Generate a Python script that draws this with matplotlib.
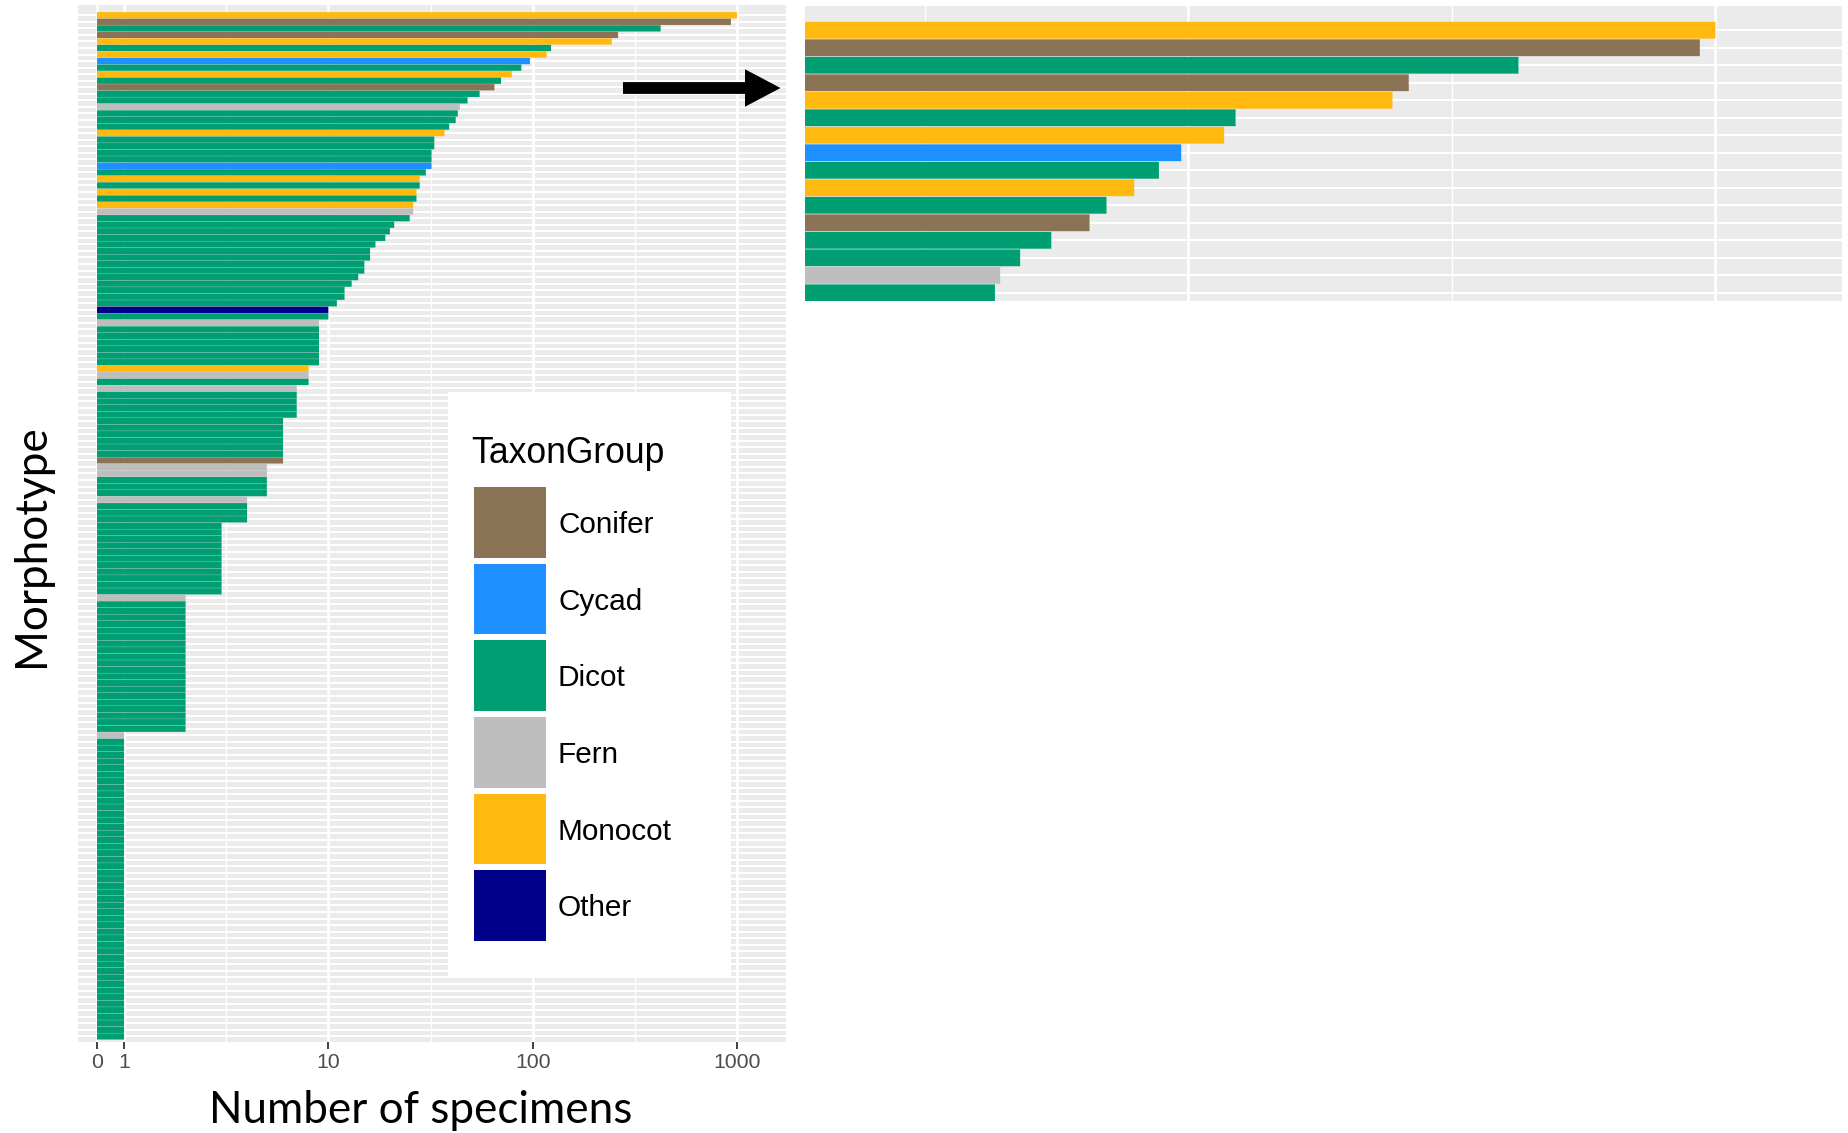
import numpy as np
import matplotlib
matplotlib.use("Agg")
import matplotlib.pyplot as plt
from matplotlib.patches import Rectangle, FancyArrow
from matplotlib.ticker import FixedLocator, NullFormatter, FixedFormatter

# ---------------- data (top to bottom) ----------------
taxon = [
    "Monocot", "Conifer", "Dicot", "Conifer", "Monocot", "Dicot", "Monocot", "Cycad",
    "Dicot", "Monocot", "Dicot", "Conifer", "Dicot", "Dicot", "Fern", "Dicot",
    "Dicot", "Dicot", "Monocot", "Dicot", "Dicot", "Dicot", "Dicot", "Cycad",
    "Dicot", "Monocot", "Dicot", "Monocot", "Dicot", "Monocot", "Fern", "Dicot",
    "Dicot", "Dicot", "Dicot", "Dicot", "Dicot", "Dicot", "Dicot", "Dicot",
    "Dicot", "Dicot", "Dicot", "Dicot", "Dicot", "Other", "Dicot", "Fern",
    "Dicot", "Dicot", "Dicot", "Dicot", "Dicot", "Dicot", "Monocot", "Fern",
    "Dicot", "Fern", "Dicot", "Dicot", "Dicot", "Dicot", "Dicot", "Dicot",
    "Dicot", "Dicot", "Dicot", "Dicot", "Conifer", "Fern", "Fern", "Dicot",
    "Dicot", "Dicot", "Fern", "Dicot", "Dicot", "Dicot", "Dicot", "Dicot",
    "Dicot", "Dicot", "Dicot", "Dicot", "Dicot", "Dicot", "Dicot", "Dicot",
    "Dicot", "Fern", "Dicot", "Dicot", "Dicot", "Dicot", "Dicot", "Dicot",
    "Dicot", "Dicot", "Dicot", "Dicot", "Dicot", "Dicot", "Dicot", "Dicot",
    "Dicot", "Dicot", "Dicot", "Dicot", "Dicot", "Dicot", "Fern", "Dicot",
    "Dicot", "Dicot", "Dicot", "Dicot", "Dicot", "Dicot", "Dicot", "Dicot",
    "Dicot", "Dicot", "Dicot", "Dicot", "Dicot", "Dicot", "Dicot", "Dicot",
    "Dicot", "Dicot", "Dicot", "Dicot", "Dicot", "Dicot", "Dicot", "Dicot",
    "Dicot", "Dicot", "Dicot", "Dicot", "Dicot", "Dicot", "Dicot", "Dicot",
    "Dicot", "Dicot", "Dicot", "Dicot", "Dicot", "Dicot", "Dicot", "Dicot",
    "Dicot", "Dicot", "Dicot", "Dicot", "Dicot",
]
specimens = [
    1000, 934, 423, 262, 244, 123, 117, 97,
    88, 79, 70, 65, 55, 48, 44, 43,
    42, 39, 37, 33, 33, 32, 32, 32,
    30, 28, 28, 27, 27, 26, 26, 25,
    21, 20, 19, 17, 16, 16, 15, 15,
    14, 13, 12, 12, 11, 10, 10, 9,
    9, 9, 9, 9, 9, 9, 8, 8,
    8, 7, 7, 7, 7, 7, 6, 6,
    6, 6, 6, 6, 6, 5, 5, 5,
    5, 5, 4, 4, 4, 4, 3, 3,
    3, 3, 3, 3, 3, 3, 3, 3,
    3, 2, 2, 2, 2, 2, 2, 2,
    2, 2, 2, 2, 2, 2, 2, 2,
    2, 2, 2, 2, 2, 2, 1, 1,
    1, 1, 1, 1, 1, 1, 1, 1,
    1, 1, 1, 1, 1, 1, 1, 1,
    1, 1, 1, 1, 1, 1, 1, 1,
    1, 1, 1, 1, 1, 1, 1, 1,
    1, 1, 1, 1, 1, 1, 1, 1,
    1, 1, 1, 1, 1,
]
groups = ["Conifer", "Cycad", "Dicot", "Fern", "Monocot", "Other"]
group_colors = ["#8B7355", "#1E90FF", "#009E73", "#BEBEBE", "#FFB90F", "#00008B"]
x_ticks = [0, 1, 10, 100, 1000]
x_ticklabels = ["0", "1", "10", "100", "1000"]
x_minor = [10 ** 0.5, 10 ** 1.5, 10 ** 2.5]

# ---------------- scale: log10 with a small linear stub for 0..1 ----------------
ZERO_GAP = 0.1325


def fwd(x):
    x = np.asarray(x, dtype=float)
    return np.where(x >= 1, np.log10(np.clip(x, 1, None)), (x - 1) * ZERO_GAP)


def inv(y):
    y = np.asarray(y, dtype=float)
    return np.where(y >= 0, np.power(10.0, np.clip(y, None, 300)), y / ZERO_GAP + 1)


W, H = 1849, 1133
fig = plt.figure(figsize=(W / 100, H / 100), dpi=100)
fig.patch.set_facecolor("white")

cmap = dict(zip(groups, group_colors))
colors = [cmap[t] for t in taxon]
rows = np.arange(1, len(specimens) + 1)


def px_axes(x0, y0, x1, y1):
    return fig.add_axes([x0 / W, 1 - y1 / H, (x1 - x0) / W, (y1 - y0) / H])


def style_panel(ax):
    ax.set_facecolor("#EBEBEB")
    ax.set_xscale("function", functions=(fwd, inv))
    bars = ax.barh(rows, specimens, left=0, height=0.96, color=colors, linewidth=0, zorder=3)
    for b in bars:
        b.set_snap(False)
    ax.set_axisbelow(True)
    ax.xaxis.set_major_locator(FixedLocator(x_ticks))
    ax.xaxis.set_minor_locator(FixedLocator(x_minor))
    ax.xaxis.set_minor_formatter(NullFormatter())
    ax.set_yticks(rows)
    ax.set_yticklabels([])
    ax.tick_params(axis="y", length=0)
    ax.tick_params(axis="x", which="minor", length=0)
    ax.grid(axis="y", which="major", color="white", linewidth=1.45)
    ax.grid(axis="x", which="major", color="white", linewidth=1.9)
    ax.grid(axis="x", which="minor", color="white", linewidth=0.95)
    for s in ax.spines.values():
        s.set_visible(False)


# left (main) panel
ax = px_axes(78, 5, 786, 1041.7)
style_panel(ax)
ax.set_xlim(float(inv(-0.2255)), float(inv(3.24)))
ax.set_ylim(157.81, -0.57)
ax.xaxis.set_major_formatter(FixedFormatter(x_ticklabels))
ax.tick_params(axis="x", which="major", length=4.7, width=1.3, color="#333333",
               labelcolor="#4D4D4D", labelsize=15.3, pad=3.6)
for lab in ax.get_xticklabels():
    lab.set_fontfamily("Liberation Sans")

# right (zoomed) panel
axz = px_axes(805.4, 5.9, 1842, 300.7)
style_panel(axz)
axz.set_xlim(float(inv(1.274)), float(inv(3.24)))
axz.set_ylim(16.45, -0.39)
axz.tick_params(axis="x", which="both", length=0, labelbottom=False)

# overlay in pixel coordinates for arrow, legend and titles
ov = fig.add_axes([0, 0, 1, 1], zorder=10)
ov.set_xlim(0, W)
ov.set_ylim(H, 0)
ov.axis("off")
ov.patch.set_alpha(0)

ov.add_patch(FancyArrow(623, 88, 157.5, 0, width=11.8, head_width=37.5, head_length=35.5,
                        length_includes_head=True, color="black", linewidth=0))

# legend
ov.add_patch(Rectangle((448, 391.5), 283, 585, facecolor="white", edgecolor="none"))
ov.text(471.7, 463.4, "TaxonGroup", fontsize=25.6, family="Liberation Sans",
        ha="left", va="baseline", color="black")
key_top0, key_pitch, key_h = 487.0, 76.65, 70.8
for i, (g, c) in enumerate(zip(groups, group_colors)):
    top = key_top0 + i * key_pitch
    ov.add_patch(Rectangle((474, top), 71.5, key_h, facecolor=c, edgecolor="none"))
    ov.text(558, top + key_h / 2 + 10.6, g, fontsize=21.4, family="Liberation Sans",
            ha="left", va="baseline", color="black")

renderer = fig.canvas.get_renderer()


def fit(t, target, vertical=False):
    for _ in range(3):
        bb = t.get_window_extent(renderer=renderer)
        cur = bb.height if vertical else bb.width
        t.set_fontsize(t.get_fontsize() * target / cur)


xt = ov.text(421, 1122.6, "Number of specimens", fontsize=34, family="Lato",
             ha="center", va="baseline", color="black")
fit(xt, 424)
yt = ov.text(44.5, 546, "Morphotype", fontsize=34, family="Lato", rotation=90,
             rotation_mode="anchor", ha="center", va="baseline", color="black")
fit(yt, 243, vertical=True)

fig.savefig("out.png", dpi=100, facecolor="white")
